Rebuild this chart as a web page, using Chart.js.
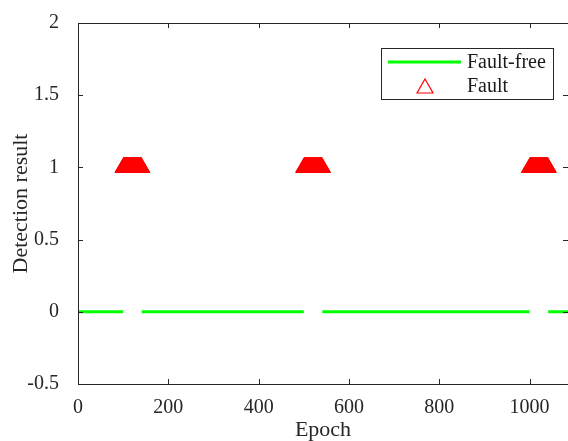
<!DOCTYPE html>
<html>
<head>
<meta charset="utf-8">
<script src="https://cdn.jsdelivr.net/npm/chart.js@4/dist/chart.umd.min.js"></script>
<style>
html,body{margin:0;padding:0;background:#fff;}
#wrap{width:568px;height:441px;position:relative;}
</style>
</head>
<body>
<div id="wrap"><canvas id="c"></canvas></div>
<script>
// fault-free stretches of epochs (line at 0)
const freeStart=[1,141,541,1041];
const freeEnd=[100,500,1000,1090];
const freeLevel=0;
// epochs flagged as fault (y = 1)
const faultEpochs=[
  101,102,103,104,105,106,107,108,109,110,111,112,113,114,115,116,117,118,119,120,
  121,122,123,124,125,126,127,128,129,130,131,132,133,134,135,136,137,138,139,140,
  501,502,503,504,505,506,507,508,509,510,511,512,513,514,515,516,517,518,519,520,
  521,522,523,524,525,526,527,528,529,530,531,532,533,534,535,536,537,538,539,540,
  1001,1002,1003,1004,1005,1006,1007,1008,1009,1010,1011,1012,1013,1014,1015,1016,1017,1018,1019,1020,
  1021,1022,1023,1024,1025,1026,1027,1028,1029,1030,1031,1032,1033,1034,1035,1036,1037,1038,1039,1040
];
const faultLevel=1;
const xTicks=[0,200,400,600,800,1000];
const yTicks=[-0.5,0,0.5,1,1.5,2];

const ink="#262626";
const serif="'Liberation Serif','Times New Roman',serif";

const freeData=[];
freeStart.forEach((s,i)=>{
  if(i>0)freeData.push({x:(freeEnd[i-1]+s)/2,y:null});
  freeData.push({x:s,y:freeLevel},{x:freeEnd[i],y:freeLevel});
});
const faultData=faultEpochs.map(e=>({x:e,y:faultLevel}));

const frame={
  id:"frame",
  afterDraw(chart){
    const {ctx,chartArea:a,scales:{x,y}}=chart;
    ctx.save();
    ctx.strokeStyle=ink;ctx.lineWidth=1;
    ctx.strokeRect(a.left+0.5,a.top+0.5,a.right-a.left,a.bottom-a.top);
    ctx.beginPath();
    xTicks.forEach(v=>{const p=Math.round(x.getPixelForValue(v))+0.5;
      ctx.moveTo(p,a.bottom);ctx.lineTo(p,a.bottom-5);ctx.moveTo(p,a.top);ctx.lineTo(p,a.top+5);});
    yTicks.forEach(v=>{const p=Math.round(y.getPixelForValue(v))+0.5;
      ctx.moveTo(a.left,p);ctx.lineTo(a.left+5,p);ctx.moveTo(a.right,p);ctx.lineTo(a.right-5,p);});
    ctx.stroke();
    // legend
    const lx=a.left+303,ly=a.top+25,lw=172,lh=51;
    ctx.fillStyle="#fff";ctx.fillRect(lx,ly,lw,lh);
    ctx.strokeStyle=ink;ctx.strokeRect(lx+0.5,ly+0.5,lw,lh);
    ctx.strokeStyle="#00ff00";ctx.lineWidth=3;
    ctx.beginPath();ctx.moveTo(lx+7,ly+14);ctx.lineTo(lx+80,ly+14);ctx.stroke();
    ctx.strokeStyle="#ff0000";ctx.lineWidth=1.2;
    const tx=lx+44,ty=ly+39;
    ctx.beginPath();ctx.moveTo(tx,ty-8);ctx.lineTo(tx+8,ty+6);ctx.lineTo(tx-8,ty+6);ctx.closePath();ctx.stroke();
    ctx.fillStyle="#1a1a1a";ctx.font="20px "+serif;ctx.textBaseline="middle";ctx.textAlign="left";
    ctx.fillText("Fault-free",lx+86,ly+15);
    ctx.fillText("Fault",lx+86,ly+39);
    ctx.restore();
  }
};

const fmt=v=>String(v);

new Chart("c",{
  data:{datasets:[
    {type:"line",label:"Fault-free",data:freeData,borderColor:"#00ff00",borderWidth:3,pointRadius:0,spanGaps:false,order:2},
    {type:"scatter",label:"Fault",data:faultData,pointStyle:"triangle",pointRadius:10,pointHoverRadius:10,
     backgroundColor:"#ff0000",borderColor:"#ff0000",borderWidth:1,order:1}
  ]},
  options:{
    responsive:true,maintainAspectRatio:false,animation:false,
    layout:{autoPadding:false,padding:{top:18,right:0,left:0,bottom:0}},
    plugins:{legend:{display:false},tooltip:{enabled:false}},
    scales:{
      x:{type:"linear",min:0,max:1085,
        afterBuildTicks:s=>{s.ticks=xTicks.map(v=>({value:v}));},
        afterFit:s=>{s.height=57;s.paddingRight=0;s.paddingLeft=0;},
        grid:{display:false},border:{display:false},
        ticks:{color:ink,padding:4,maxRotation:0,font:{family:serif,size:20},callback:fmt},
        title:{display:true,text:"Epoch",color:ink,padding:{top:0,bottom:0},font:{family:serif,size:22,lineHeight:1}}},
      y:{type:"linear",min:-0.5,max:2,
        afterBuildTicks:s=>{s.ticks=yTicks.map(v=>({value:v}));},
        afterFit:s=>{s.width=78;},
        grid:{display:false},border:{display:false},
        ticks:{color:ink,padding:11,font:{family:serif,size:20},callback:fmt},
        title:{display:true,text:"Detection result",color:ink,padding:{top:10,bottom:0},font:{family:serif,size:22,lineHeight:1}}}
    }
  },
  plugins:[frame]
});
</script>
</body>
</html>
